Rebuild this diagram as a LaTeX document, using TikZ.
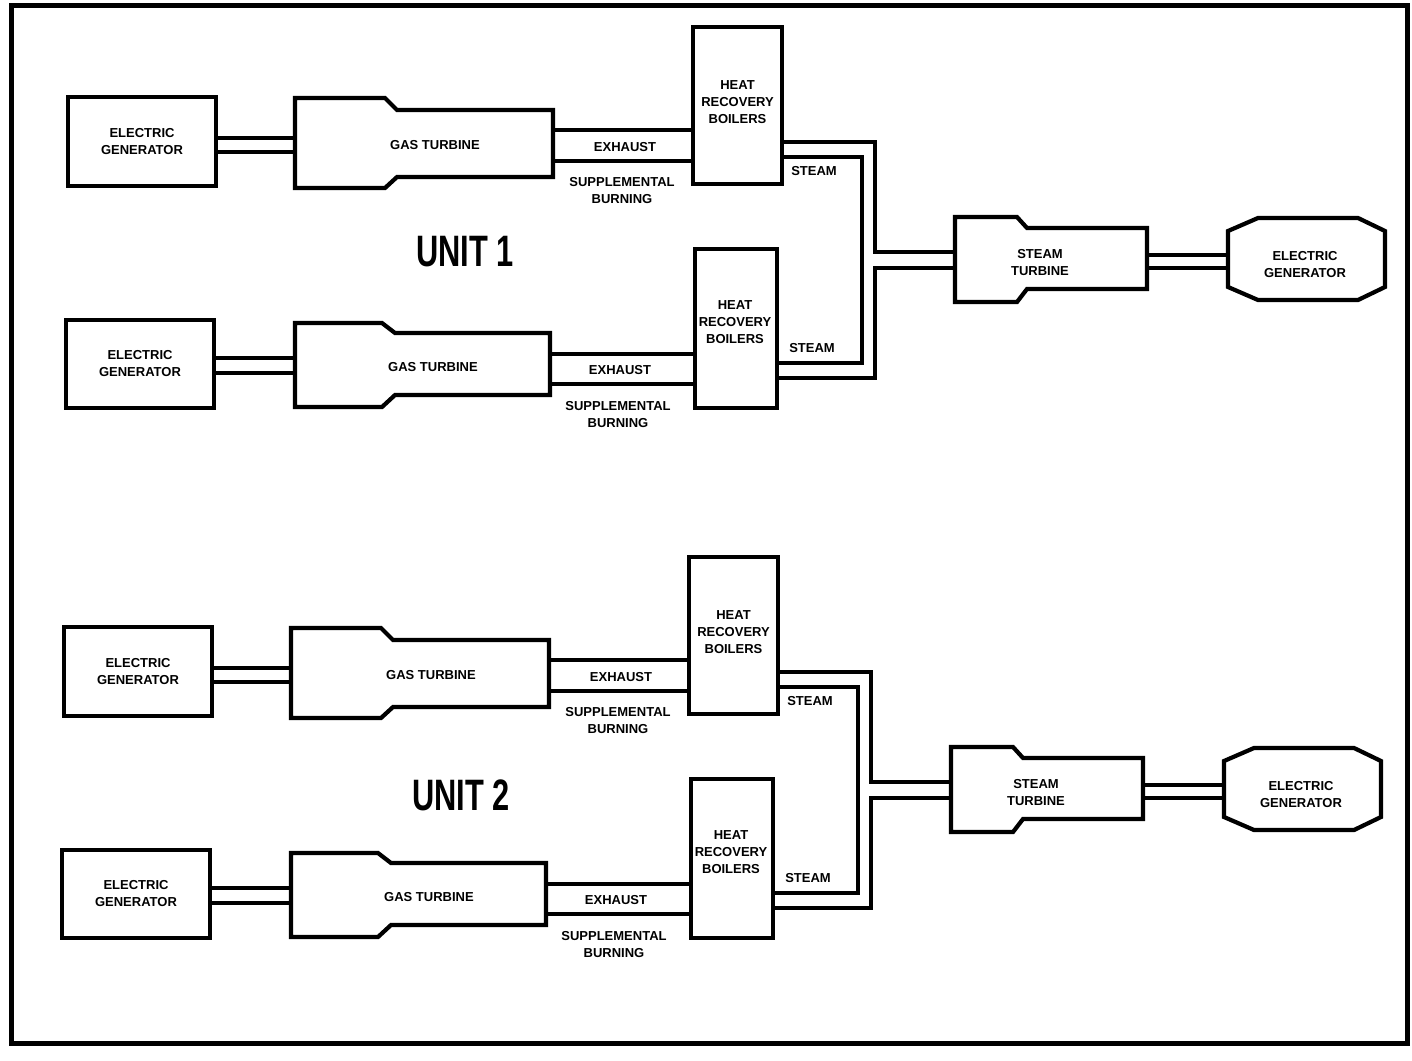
\documentclass[tikz,border=0pt]{standalone}
\usepackage{fontspec}
\usepackage{graphicx}
\setmainfont{Liberation Sans}
\newfontfamily\diagfont{Liberation Sans}
\newcommand\drawunit{%
  % ---------- row A ----------
  \node[blk, txt, minimum width=148pt, minimum height=89pt] (genA) at (142,141.5) {ELECTRIC\\GENERATOR};
  \draw[outline] (295,98) -- (385,98) -- (397,110) -- (553,110) -- (553,177) -- (397,177) -- (385,188) -- (295,188) -- cycle;
  \node[ghost, minimum width=258pt, minimum height=90pt] (gtA) at (424,143) {};
  \node[txt] (gtAt) at (435,145) {GAS TURBINE};
  \draw[shaftline] (genA.east |- 0,138) -- (gtA.west |- 0,138);
  \draw[shaftline] (genA.east |- 0,152) -- (gtA.west |- 0,152);
  \node[blk, minimum width=89pt, minimum height=157pt] (hrbA) at (737.5,105.5) {};
  \node[txt] (hrbAt) at (737.5,102) {HEAT\\RECOVERY\\BOILERS};
  \draw[pipe] (gtA.east |- 0,130) -- (hrbA.west |- 0,130);
  \draw[pipe] (gtA.east |- 0,161) -- (hrbA.west |- 0,161);
  \node[txt] (exA) at (625,147) {EXHAUST};
  \node[txt] (sbA) at (622,191) {SUPPLEMENTAL\\BURNING};
  \node[txt] (stmA) at (814,171) {STEAM};
  % ---------- row B ----------
  \node[blk, txt, minimum width=148pt, minimum height=88pt] (genB) at (140,364) {ELECTRIC\\GENERATOR};
  \draw[outline] (295,323) -- (382,323) -- (395,333) -- (550,333) -- (550,395) -- (395,395) -- (382,407) -- (295,407) -- cycle;
  \node[ghost, minimum width=255pt, minimum height=84pt] (gtB) at (422.5,365) {};
  \node[txt] (gtBt) at (433,367) {GAS TURBINE};
  \draw[shaftline] (genB.east |- 0,358) -- (gtB.west |- 0,358);
  \draw[shaftline] (genB.east |- 0,373) -- (gtB.west |- 0,373);
  \node[blk, minimum width=82pt, minimum height=159pt] (hrbB) at (736,328.5) {};
  \node[txt] (hrbBt) at (735,322) {HEAT\\RECOVERY\\BOILERS};
  \draw[pipe] (gtB.east |- 0,354) -- (hrbB.west |- 0,354);
  \draw[pipe] (gtB.east |- 0,384) -- (hrbB.west |- 0,384);
  \node[txt] (exB) at (620,370) {EXHAUST};
  \node[txt] (sbB) at (618,415) {SUPPLEMENTAL\\BURNING};
  \node[txt] (stmB) at (812,348) {STEAM};
  % ---------- steam turbine and generator ----------
  \draw[outline] (955,217) -- (1017,217) -- (1027,228) -- (1147,228) -- (1147,289) -- (1027,289) -- (1017,302) -- (955,302) -- cycle;
  \node[ghost, minimum width=192pt, minimum height=85pt] (st) at (1051,259.5) {};
  \node[txt] (stt) at (1040,263) {STEAM\\TURBINE};
  \draw[outline] (1228,231) -- (1258,218) -- (1358,218) -- (1385,231) -- (1385,287) -- (1358,300) -- (1258,300) -- (1228,287) -- cycle;
  \node[ghost, minimum width=157pt, minimum height=82pt] (egr) at (1306.5,259) {};
  \node[txt] (egrt) at (1305,265) {ELECTRIC\\GENERATOR};
  \draw[shaftline] (st.east |- 0,255) -- (egr.west |- 0,255);
  \draw[shaftline] (st.east |- 0,268) -- (egr.west |- 0,268);
  % ---------- steam piping ----------
  \draw[pipe] (hrbA.east |- 0,142) -- (875,142) -- (875,252) -- (st.west |- 0,252);
  \draw[pipe] (hrbA.east |- 0,157) -- (862,157) -- (862,363) -- (hrbB.east |- 0,363);
  \draw[pipe] (st.west |- 0,268) -- (875,268) -- (875,378) -- (hrbB.east |- 0,378);
}
\begin{document}
\begin{tikzpicture}[x=1pt,y=-1pt,
  outline/.style={draw=black, line width=4.2pt, line join=miter},
  blk/.style={outline, rectangle, inner sep=0pt},
  ghost/.style={rectangle, inner sep=0pt, draw=none},
  txt/.style={font=\diagfont\bfseries\fontsize{13}{17}\selectfont, align=center, inner sep=0pt},
  pipe/.style={line width=3.8pt, line join=miter},
  shaftline/.style={line width=3.2pt},
  unitlbl/.style={font=\diagfont\bfseries\fontsize{44}{44}\selectfont, inner sep=0pt}
]
\useasboundingbox[fill=white] (0,0) rectangle (1412,1060);
\draw[line width=5pt] (11,5) rectangle (1407,1043);
\begin{scope}[name prefix=u1-]
  \drawunit
\end{scope}
\begin{scope}[shift={(-4,530)}, name prefix=u2-]
  \drawunit
\end{scope}
\node[unitlbl] (unit1) at (465,252) {\scalebox{0.7}[1]{UNIT 1}};
\node[unitlbl] (unit2) at (461,795) {\scalebox{0.7}[1]{UNIT 2}};
\end{tikzpicture}
\end{document}
